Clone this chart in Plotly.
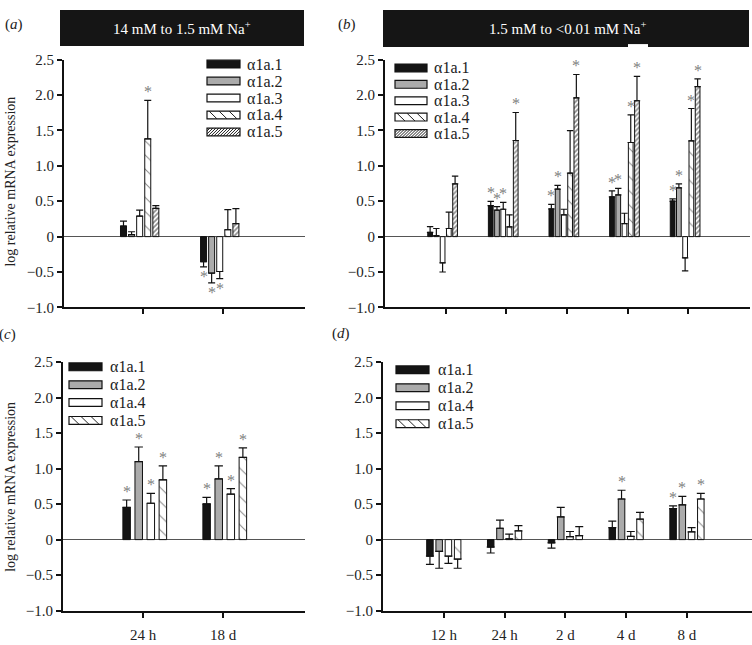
import plotly.graph_objects as go

W, H = 752, 645
FONT = "Liberation Serif"

# ---------------- data ----------------
TIMES_AC = ["24 h", "18 d"]
TIMES_BD = ["12 h", "24 h", "2 d", "4 d", "8 d"]
Y_TICK_VALS = [-1.0, -0.5, 0, 0.5, 1.0, 1.5, 2.0, 2.5]
Y_TICK_TEXT = ["\u22121.0", "\u22120.5", "0", "0.5", "1.0", "1.5", "2.0", "2.5"]

NAMES_AB = ["α1a.1", "α1a.2", "α1a.3", "α1a.4", "α1a.5"]
NAMES_CD = ["α1a.1", "α1a.2", "α1a.4", "α1a.5"]

# (a) 14 mM to 1.5 mM Na+
A_MEAN_1 = [0.15, -0.355]
A_MEAN_2 = [0.028, -0.516]
A_MEAN_3 = [0.29, -0.493]
A_MEAN_4 = [1.381, 0.097]
A_MEAN_5 = [0.40, 0.184]
A_ERR_1 = [0.07, 0.073]
A_ERR_2 = [0.041, 0.138]
A_ERR_3 = [0.083, 0.101]
A_ERR_4 = [0.544, 0.285]
A_ERR_5 = [0.037, 0.212]
A_SIG_1 = [0, 1]
A_SIG_2 = [0, 1]
A_SIG_3 = [0, 1]
A_SIG_4 = [1, 0]
A_SIG_5 = [0, 0]

# (b) 1.5 mM to <0.01 mM Na+
B_MEAN_1 = [0.06, 0.437, 0.391, 0.562, 0.502]
B_MEAN_2 = [0.015, 0.373, 0.672, 0.589, 0.69]
B_MEAN_3 = [-0.37, 0.387, 0.308, 0.184, -0.30]
B_MEAN_4 = [0.115, 0.138, 0.898, 1.33, 1.354]
B_MEAN_5 = [0.745, 1.358, 1.961, 1.92, 2.12]
B_ERR_1 = [0.08, 0.06, 0.065, 0.083, 0.032]
B_ERR_2 = [0.10, 0.051, 0.051, 0.092, 0.056]
B_ERR_3 = [0.13, 0.096, 0.079, 0.146, 0.183]
B_ERR_4 = [0.23, 0.17, 0.60, 0.39, 0.456]
B_ERR_5 = [0.111, 0.396, 0.33, 0.345, 0.108]
B_SIG_1 = [0, 1, 1, 1, 1]
B_SIG_2 = [0, 1, 1, 1, 1]
B_SIG_3 = [0, 1, 0, 0, 0]
B_SIG_4 = [0, 0, 0, 1, 1]
B_SIG_5 = [0, 1, 1, 1, 1]

# (c)
C_MEAN_1 = [0.453, 0.503]
C_MEAN_2 = [1.098, 0.855]
C_MEAN_4 = [0.512, 0.64]
C_MEAN_5 = [0.842, 1.157]
C_ERR_1 = [0.105, 0.092]
C_ERR_2 = [0.206, 0.183]
C_ERR_4 = [0.138, 0.078]
C_ERR_5 = [0.196, 0.133]
C_SIG_1 = [1, 1]
C_SIG_2 = [1, 1]
C_SIG_4 = [1, 1]
C_SIG_5 = [1, 1]

# (d)
D_MEAN_1 = [-0.233, -0.105, -0.046, 0.169, 0.435]
D_MEAN_2 = [-0.165, 0.16, 0.32, 0.572, 0.49]
D_MEAN_4 = [-0.233, 0.01, 0.041, 0.046, 0.11]
D_MEAN_5 = [-0.274, 0.124, 0.055, 0.288, 0.572]
D_ERR_1 = [0.115, 0.083, 0.073, 0.091, 0.041]
D_ERR_2 = [0.238, 0.114, 0.133, 0.123, 0.118]
D_ERR_4 = [0.101, 0.068, 0.073, 0.068, 0.059]
D_ERR_5 = [0.129, 0.073, 0.128, 0.096, 0.078]
D_SIG_1 = [0, 0, 0, 0, 1]
D_SIG_2 = [0, 0, 0, 1, 1]
D_SIG_4 = [0, 0, 0, 0, 0]
D_SIG_5 = [0, 0, 0, 0, 1]

# ---------------- styles ----------------
BLACK = dict(color="#141414")
GREY = dict(color="#ababab")
WHITE = dict(color="white")
SPARSE = dict(color="white", pattern=dict(shape="\\", size=10, solidity=0.1,
                                          fgcolor="#111", bgcolor="white"))
DENSE = dict(color="white", pattern=dict(shape="/", size=3.5, solidity=0.5,
                                         fgcolor="#222", bgcolor="white"))
STYLE_AB = [BLACK, GREY, WHITE, SPARSE, DENSE]
STYLE_CD = [BLACK, GREY, WHITE, SPARSE]
HATCH_AB = [None, None, None, ("\\", 10), ("/", 3)]
HATCH_CD = [None, None, None, ("\\", 10)]


def px(x):
    return x / W


def py(y):
    return 1 - y / H


panels = [
    dict(ax="", cats=TIMES_AC, dx=(64, 305), dy=(53, 307), rng=(-0.99, 2.02),
         slot=0.101, bw=0.075, shift=-0.045, ebw=3.5, labels=False,
         means=[A_MEAN_1, A_MEAN_2, A_MEAN_3, A_MEAN_4, A_MEAN_5],
         errs=[A_ERR_1, A_ERR_2, A_ERR_3, A_ERR_4, A_ERR_5],
         sigs=[A_SIG_1, A_SIG_2, A_SIG_3, A_SIG_4, A_SIG_5],
         names=NAMES_AB, styles=STYLE_AB, hatch=HATCH_AB,
         leg=dict(sx=207, sw=33, tx=246, y0=57.5, dy=17.4)),
    dict(ax="2", cats=TIMES_BD, dx=(385, 750), dy=(53, 307), rng=(-1.0, 5.02),
         slot=0.103, bw=0.078, shift=-0.05, ebw=3.2, labels=False,
         means=[B_MEAN_1, B_MEAN_2, B_MEAN_3, B_MEAN_4, B_MEAN_5],
         errs=[B_ERR_1, B_ERR_2, B_ERR_3, B_ERR_4, B_ERR_5],
         sigs=[B_SIG_1, B_SIG_2, B_SIG_3, B_SIG_4, B_SIG_5],
         names=NAMES_AB, styles=STYLE_AB, hatch=HATCH_AB,
         leg=dict(sx=395, sw=32, tx=433, y0=61.5, dy=16.8)),
    dict(ax="3", cats=TIMES_AC, dx=(63, 305), dy=(363, 618), rng=(-1.0, 2.025),
         slot=0.151, bw=0.094, shift=0.022, ebw=4.2, labels=True,
         means=[C_MEAN_1, C_MEAN_2, C_MEAN_4, C_MEAN_5],
         errs=[C_ERR_1, C_ERR_2, C_ERR_4, C_ERR_5],
         sigs=[C_SIG_1, C_SIG_2, C_SIG_4, C_SIG_5],
         names=NAMES_CD, styles=STYLE_CD, hatch=HATCH_CD,
         leg=dict(sx=69, sw=33, tx=109, y0=368, dy=18.3)),
    dict(ax="4", cats=TIMES_BD, dx=(383, 752), dy=(363, 618), rng=(-1.0, 5.07),
         slot=0.152, bw=0.107, shift=0.0, ebw=4.0, labels=True,
         means=[D_MEAN_1, D_MEAN_2, D_MEAN_4, D_MEAN_5],
         errs=[D_ERR_1, D_ERR_2, D_ERR_4, D_ERR_5],
         sigs=[D_SIG_1, D_SIG_2, D_SIG_4, D_SIG_5],
         names=NAMES_CD, styles=STYLE_CD, hatch=HATCH_CD,
         leg=dict(sx=396, sw=33, tx=437, y0=371, dy=18.4)),
]

fig = go.Figure()
shapes = []
annotations = []
layout_axes = {}

for p in panels:
    xname, yname = "x" + p["ax"], "y" + p["ax"]
    n = len(p["means"])
    for i in range(n):
        vals, errs, sigs = p["means"][i], p["errs"][i], p["sigs"][i]
        center = p["shift"] + (i - (n - 1) / 2) * p["slot"]
        up = [e if v >= 0 else 0 for v, e in zip(vals, errs)]
        down = [e if v < 0 else 0 for v, e in zip(vals, errs)]
        mk = dict(p["styles"][i])
        mk["line"] = dict(color="#111", width=1)
        fig.add_trace(go.Bar(
            x=p["cats"], y=vals, xaxis=xname, yaxis=yname,
            width=p["bw"], offset=center - p["bw"] / 2,
            marker=mk, name=p["names"][i], showlegend=False, hoverinfo="skip",
            error_y=dict(type="data", symmetric=False, array=up, arrayminus=down,
                         color="#111", thickness=1.2, width=p["ebw"]),
        ))
        for j, (v, e, s) in enumerate(zip(vals, errs, sigs)):
            if s:
                pos = v >= 0
                annotations.append(dict(
                    x=j + center, y=v + e if pos else v - e, xref=xname, yref=yname,
                    text="*", showarrow=False,
                    font=dict(family=FONT, size=16, color="#808080"),
                    xanchor="center", yanchor="bottom" if pos else "top",
                    yshift=-1 if pos else 0, borderpad=0,
                ))
    # axes
    layout_axes["xaxis" + p["ax"]] = dict(
        domain=[px(p["dx"][0]), px(p["dx"][1])], anchor=yname, type="category",
        range=list(p["rng"]), showline=True, linecolor="#111", linewidth=2,
        ticks="outside", ticklen=5, tickwidth=1.5, tickcolor="#111",
        showticklabels=p["labels"], showgrid=False, zeroline=False,
        ticklabelstandoff=4,
        tickfont=dict(family=FONT, size=15, color="#222"), fixedrange=True,
    )
    layout_axes["yaxis" + p["ax"]] = dict(
        domain=[py(p["dy"][1]), py(p["dy"][0])], anchor=xname, range=[-1, 2.5],
        tickmode="array", tickvals=Y_TICK_VALS, ticktext=Y_TICK_TEXT,
        showline=True, linecolor="#111", linewidth=2, ticks="outside", ticklen=5,
        tickwidth=1.5, tickcolor="#111", showgrid=False, zeroline=True,
        zerolinecolor="#555", zerolinewidth=1.3,
        tickfont=dict(family=FONT, size=15, color="#222"), fixedrange=True,
    )
    # legend (drawn as decoration)
    lg = p["leg"]
    sh = 8
    for i, nm in enumerate(p["names"]):
        cy = lg["y0"] + i * lg["dy"]
        x0, x1 = lg["sx"], lg["sx"] + lg["sw"]
        y0, y1 = cy - sh / 2, cy + sh / 2
        fill = p["styles"][i]["color"]
        shapes.append(dict(type="rect", xref="paper", yref="paper",
                           x0=px(x0), x1=px(x1), y0=py(y1), y1=py(y0),
                           fillcolor=fill, line=dict(color="#111", width=1.2)))
        hatch = p["hatch"][i]
        if hatch:
            kind, step = hatch
            k = -sh
            while k < lg["sw"]:
                sx0, sy0 = k, 0.0
                sx1, sy1 = k + sh, sh
                if sx0 < 0:
                    sy0 += -sx0
                    sx0 = 0
                if sx1 > lg["sw"]:
                    sy1 -= sx1 - lg["sw"]
                    sx1 = lg["sw"]
                if sx1 > sx0:
                    if kind == "\\":
                        ax0, ay0, ax1, ay1 = x0 + sx0, y0 + sy0, x0 + sx1, y0 + sy1
                    else:
                        ax0, ay0, ax1, ay1 = x0 + sx0, y1 - sy0, x0 + sx1, y1 - sy1
                    shapes.append(dict(type="line", xref="paper", yref="paper",
                                       x0=px(ax0), y0=py(ay0), x1=px(ax1), y1=py(ay1),
                                       line=dict(color="#222", width=1)))
                k += step
        annotations.append(dict(x=px(lg["tx"]), y=py(cy), xref="paper", yref="paper",
                                text=nm, showarrow=False, xanchor="left", yanchor="middle",
                                borderpad=0,
                                font=dict(family=FONT, size=16, color="#222")))

# headers
shapes.append(dict(type="rect", xref="paper", yref="paper", x0=px(60), x1=px(304),
                   y0=py(39), y1=py(2), fillcolor="#151515", line=dict(width=0)))
shapes.append(dict(type="rect", xref="paper", yref="paper", x0=px(383), x1=px(749),
                   y0=py(40), y1=py(2), fillcolor="#151515", line=dict(width=0)))
shapes.append(dict(type="rect", xref="paper", yref="paper", x0=px(628), x1=px(648),
                   y0=py(41), y1=py(37), fillcolor="white", line=dict(width=0)))
annotations.append(dict(x=px(182), y=py(21), xref="paper", yref="paper",
                        xanchor="center", yanchor="middle",
                        text="14 mM to 1.5 mM Na<sup>+</sup>", showarrow=False,
                        font=dict(family=FONT, size=15, color="white")))
annotations.append(dict(x=px(567), y=py(21), xref="paper", yref="paper",
                        xanchor="center", yanchor="middle",
                        text="1.5 mM to &lt;0.01 mM Na<sup>+</sup>", showarrow=False,
                        font=dict(family=FONT, size=15, color="white")))

# panel letters
for lab, x, y in [("a", 14, 17), ("b", 347, 17), ("c", 7, 335), ("d", 341, 334)]:
    annotations.append(dict(x=px(x), y=py(y), xref="paper", yref="paper",
                            xanchor="center", yanchor="middle",
                            text="(<i>%s</i>)" % lab, showarrow=False,
                            font=dict(family=FONT, size=15, color="#222")))

# y-axis titles
for yc in (178, 491):
    annotations.append(dict(x=px(11), y=py(yc), xref="paper", yref="paper",
                            xanchor="center", yanchor="middle",
                            text="log relative mRNA expression", textangle=-90,
                            showarrow=False, font=dict(family=FONT, size=14, color="#222")))

fig.update_layout(
    width=W, height=H, margin=dict(l=0, r=0, t=0, b=0),
    paper_bgcolor="white", plot_bgcolor="white",
    barmode="overlay", showlegend=False, hovermode=False,
    font=dict(family=FONT, size=14, color="#222"),
    shapes=shapes, annotations=annotations, **layout_axes,
)

POST = ("document.body.style.margin='0';document.body.style.padding='0';"
        "document.body.style.overflow='hidden';"
        "var gd=document.getElementById('{plot_id}');"
        "gd.style.position='absolute';gd.style.left='0px';gd.style.top='0px';")

fig.write_html("out.html", post_script=POST, config={"displayModeBar": False})
